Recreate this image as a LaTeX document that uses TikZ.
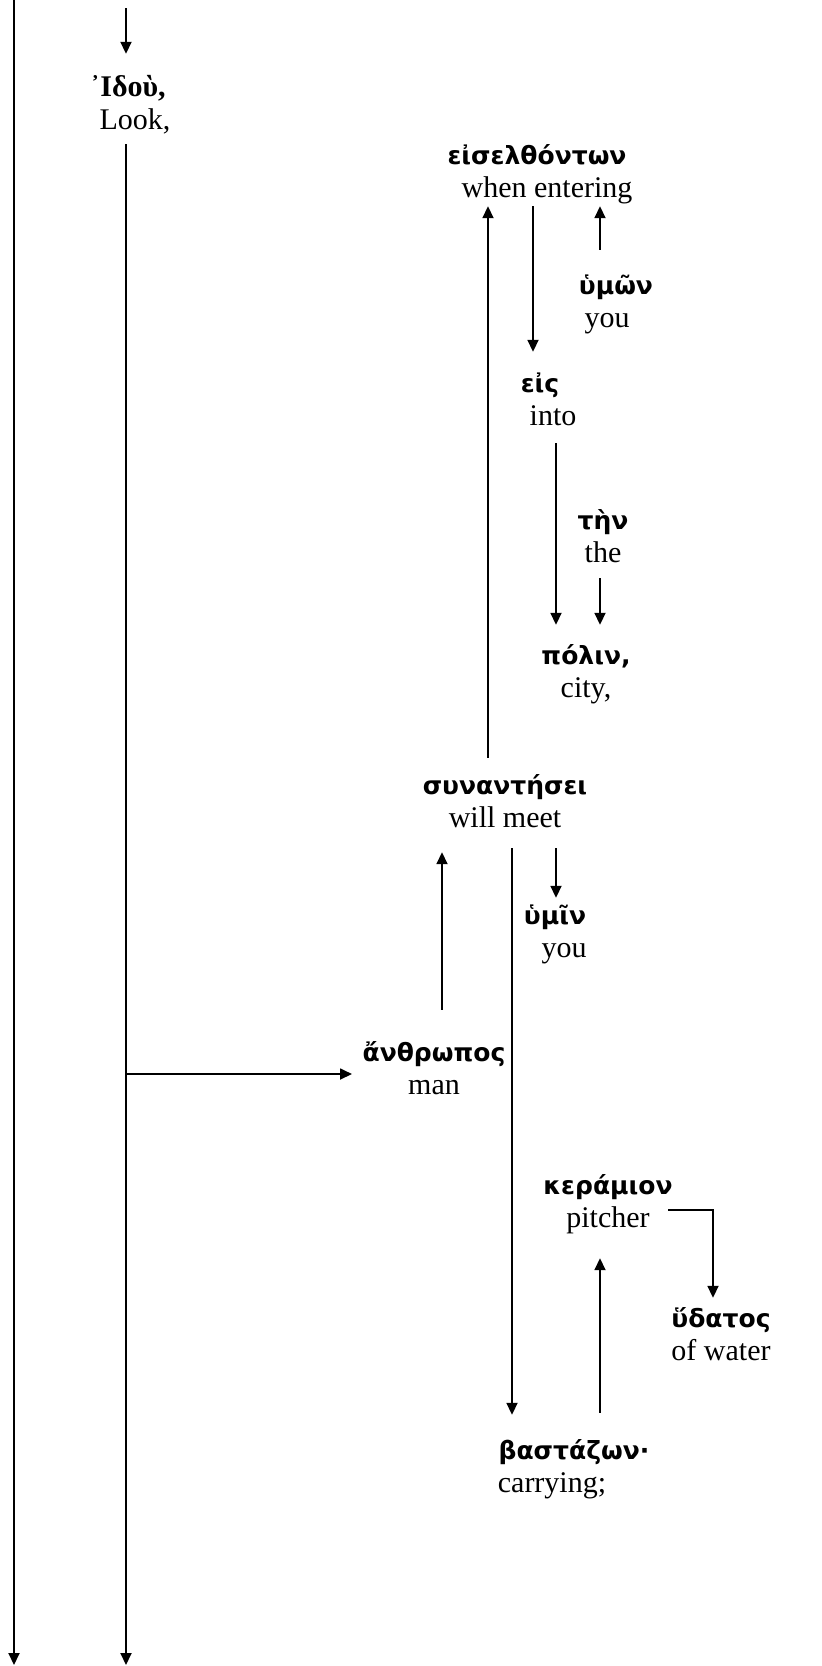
\documentclass[tikz,border=0pt]{standalone}
\usepackage{fontspec}
\setmainfont{Liberation Serif}
\newfontfamily\grk{DejaVu Sans}
\usetikzlibrary{arrows.meta,calc}
\newcommand{\wstrut}{\rule[-10pt]{0pt}{33pt}}
\newcommand{\gw}[1]{{\grk\bfseries\fontsize{25}{33}\selectfont #1}}
\newcommand{\ser}[1]{{\bfseries #1}}
\tikzset{
  word/.style={align=center, inner sep=0pt, font=\fontsize{30}{33}\selectfont},
  arr/.style={line width=1.8pt, -{Triangle[length=12pt,width=11pt]}},
  ln/.style={line width=1.8pt}
}
\begin{document}
\begin{tikzpicture}[x=1pt,y=-1pt]
\useasboundingbox (0,0) rectangle (822,1666);
% column coordinates
\coordinate (c14) at (14,0);
\coordinate (c126) at (126,0);
\coordinate (c352) at (352,0);
\coordinate (c442) at (442,0);
\coordinate (c488) at (488,0);
\coordinate (c512) at (512,0);
\coordinate (c533) at (533,0);
\coordinate (c556) at (556,0);
\coordinate (c600) at (600,0);
\coordinate (c668) at (668,0);
\coordinate (c713) at (713,0);
\coordinate (top126) at (126,8);
\coordinate (end14) at (14,1665);
\coordinate (end126) at (126,1665);

% words
\node[word] (ido)   at (128,106)  {\wstrut\ser{᾿Ιδοὺ,}\\\wstrut\hspace*{14pt}Look,};
\node[word] (eisel) at (537,174)  {\wstrut\gw{εἰσελθόντων}\\\wstrut\hspace*{20pt}when entering};
\node[word] (hymon) at (616,304)  {\wstrut\gw{ὑμῶν}\\\wstrut you\hspace*{18pt}};
\node[word] (eis)   at (540,402)  {\wstrut\gw{εἰς}\\\wstrut\hspace*{26pt}into};
\node[word] (ten)   at (603,539)  {\wstrut\gw{τὴν}\\\wstrut the};
\node[word] (polin) at (586,674)  {\wstrut\gw{πόλιν,}\\\wstrut city,};
\node[word] (syn)   at (505,804)  {\wstrut\gw{συναντήσει}\\\wstrut will meet};
\node[word] (hymin) at (555,934)  {\wstrut\gw{ὑμῖν}\\\wstrut\hspace*{18pt}you};
\node[word] (anth)  at (434,1071) {\wstrut\gw{ἄνθρωπος}\\\wstrut man};
\node[word] (ker)   at (608,1204) {\wstrut\gw{κεράμιον}\\\wstrut pitcher};
\node[word] (hyd)   at (721,1337) {\wstrut\gw{ὕδατος}\\\wstrut of water};
\node[word] (bast)  at (574,1469) {\wstrut\gw{βαστάζων·}\\\wstrut carrying;\hspace*{44pt}};

% main lines
\draw[arr] (c14) -- (end14);
\draw[arr] (top126) -- ($(ido.north -| c126)+(0,-19)$);
\draw[arr] ($(ido.south -| c126)+(0,5)$) -- (end126);
\draw[arr] ($(c126 |- anth.center)+(0,3)$) -- ($(c352 |- anth.center)+(0,3)$);

% connectors
\draw[arr] ($(anth.north -| c442)+(0,-28)$) -- ($(syn.south -| c442)+(0,15)$);
\draw[arr] ($(syn.north -| c488)+(0,-13)$) -- ($(eisel.south -| c488)+(0,-1)$);
\draw[arr] ($(eisel.south -| c533)+(0,-1)$) -- ($(eis.north -| c533)+(0,-17)$);
\draw[arr] ($(hymon.north -| c600)+(0,-21)$) -- ($(eisel.south -| c600)+(0,-1)$);
\draw[arr] ($(eis.south -| c556)+(0,8)$) -- ($(polin.north -| c556)+(0,-16)$);
\draw[arr] ($(ten.south -| c600)+(0,6)$) -- ($(polin.north -| c600)+(0,-16)$);
\draw[arr] ($(syn.south -| c512)+(0,11)$) -- ($(bast.north -| c512)+(0,-21)$);
\draw[arr] ($(syn.south -| c556)+(0,11)$) -- ($(hymin.north -| c556)+(0,-3)$);
\draw[arr] ($(bast.north -| c600)+(0,-23)$) -- ($(ker.south -| c600)+(0,21)$);
\draw[arr] ($(c668 |- ker.center)+(0,6)$) -| ($(hyd.north -| c713)+(0,-6)$);
\end{tikzpicture}
\end{document}
